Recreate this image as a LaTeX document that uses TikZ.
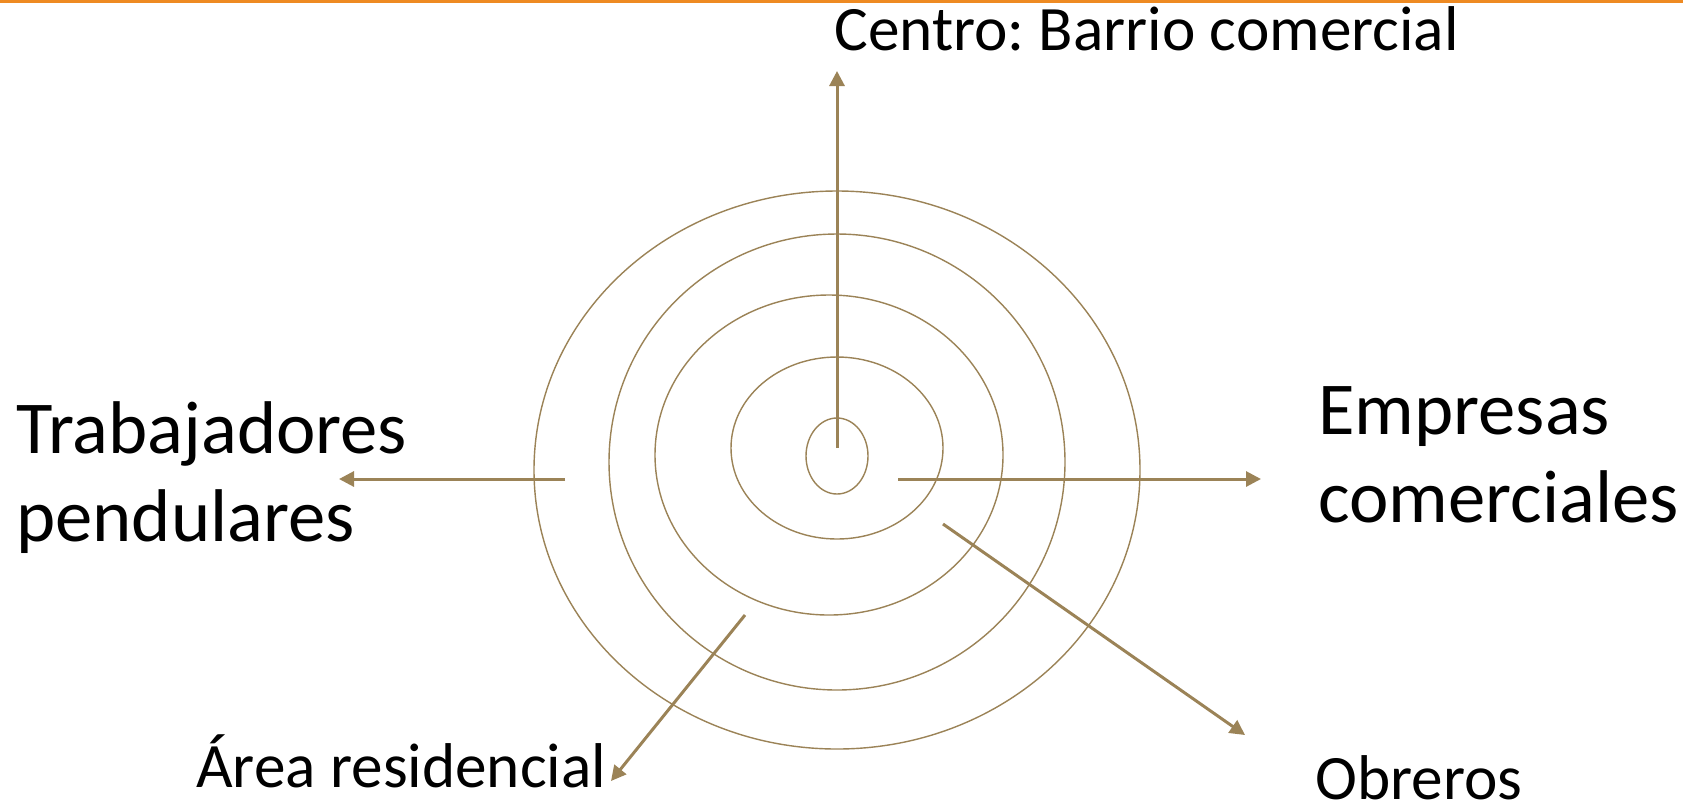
\documentclass[tikz,border=0pt]{standalone}
\usepackage{fontspec}
\setmainfont{Carlito}
\usepackage{xcolor}
\usetikzlibrary{arrows.meta}
\frenchspacing

\begin{document}
\begin{tikzpicture}[x=0.02cm,y=-0.02cm,
  ring/.style={draw=tan,line width=0.8pt},
  flow/.style={draw=tan,line width=1.7pt,-{Triangle[length=0.3cm,width=0.3cm]}},
  small/.style={anchor=base west,inner sep=0pt,font=\fontsize{36}{43}\selectfont},
  big/.style={anchor=north west,inner sep=0pt,align=left,font=\fontsize{42.5}{50}\selectfont}]
\definecolor{tan}{HTML}{9B8357}
\definecolor{tangerine}{HTML}{EE8A22}
\useasboundingbox (0,0) rectangle (1683,806);
\fill[tangerine] (0,0) rectangle (1683,3);
  \foreach \cx/\cy/\rx/\ry in {837/456/31/38,837/448/106/91,829/455/174/160,837/462/228/228,837/470/303/279}
  {  \draw[ring] (\cx,\cy) ellipse [x radius=\rx*0.02cm, y radius=\ry*0.02cm];}
\node[small] (centro) at (834,50) {Centro: Barrio comercial};
\node[big] (trab) at (16,401) {Trabajadores\\pendulares};
\node[big] (empr) at (1318,386) {Empresas\\comerciales};
\node[small] (area) at (196,787) {Área residencial};
\node[small] (obre) at (1315,799) {Obreros};
\coordinate (up0) at (837,448);   \coordinate (up1) at (837,71);
\coordinate (rt0) at (898,479);   \coordinate (rt1) at (1261,479);
\coordinate (lt0) at (565,479);   \coordinate (lt1) at (339,479);
\coordinate (dl0) at (745,615);   \coordinate (dl1) at (611,781);
\coordinate (dr0) at (943,524);   \coordinate (dr1) at (1245,735);
  \foreach \a/\b in {up0/up1,rt0/rt1,lt0/lt1,dl0/dl1,dr0/dr1}
  {  \draw[flow] (\a) -- (\b);}
\end{tikzpicture}
\end{document}
